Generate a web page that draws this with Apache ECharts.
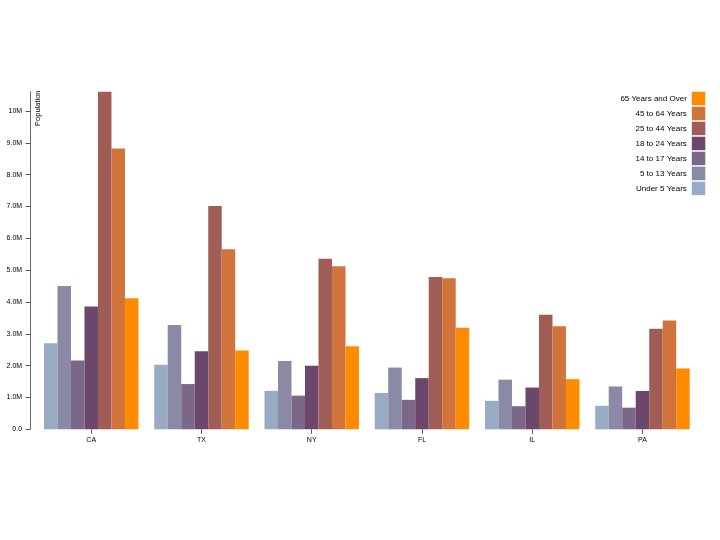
<!DOCTYPE html>
<html><head><meta charset="utf-8">
<script src="https://cdn.jsdelivr.net/npm/echarts@6/dist/echarts.min.js"></script>
<style>html,body{margin:0;padding:0;background:#fff}#c{width:720px;height:540px}</style>
</head><body><div id="c"></div>
<script>
const states = ["CA","TX","NY","FL","IL","PA"];
const ageNames = ["Under 5 Years","5 to 13 Years","14 to 17 Years","18 to 24 Years","25 to 44 Years","45 to 64 Years","65 Years and Over"];
const under5 = [2704659,2027307,1208495,1140516,894368,737462];
const age5to13 = [4499890,3277946,2141490,1938695,1558919,1345341];
const age14to17 = [2159981,1420518,1058031,925060,725973,679201];
const age18to24 = [3853788,2454721,1999120,1607297,1311479,1203944];
const age25to44 = [10604510,7017731,5355235,4782119,3596343,3157759];
const age45to64 = [8819342,5656528,5120254,4746856,3239173,3414001];
const age65plus = [4114496,2472223,2607672,3187797,1575308,1910571];
const seriesValues = [under5,age5to13,age14to17,age18to24,age25to44,age45to64,age65plus];
const colors = ["#98abc5","#8a89a6","#7b6888","#6b486b","#a05d56","#d0743c","#ff8c00"];
const yTickStep = 1000000;

const font = "Liberation Sans, Arial, Helvetica, sans-serif";
const chart = echarts.init(document.getElementById('c'), null, {renderer:'canvas'});
const maxVal = Math.max(...seriesValues.flat());
chart.setOption({
  animation:false,
  color: colors,
  grid:{left:36.1, right:22.4, top:91.7, bottom:110.7, containLabel:false},
  legend:{
    data: ageNames.slice().reverse(),
    orient:'vertical', right:14.7, top:91.7, align:'right',
    itemWidth:13.5, itemHeight:13.5, itemGap:1.5, padding:0,
    selectedMode:false, icon:'rect',
    textStyle:{fontSize:8, color:'#000', fontFamily:font}
  },
  xAxis:{
    type:'category', data:states,
    axisLine:{show:false},
    axisTick:{show:true, alignWithLabel:true, length:4.5, lineStyle:{color:'#555'}},
    axisLabel:{fontSize:7, color:'#000', margin:7, fontFamily:font}
  },
  yAxis:{
    type:'value', min:0, max:maxVal, interval:yTickStep, offset:6,
    splitLine:{show:false},
    axisLine:{show:true, lineStyle:{color:'#666', width:1}},
    axisTick:{show:true, length:4.5, lineStyle:{color:'#555'}},
    axisLabel:{fontSize:7, color:'#000', margin:8, fontFamily:font, showMaxLabel:false,
      formatter:function(v){
        if (v===0) return '0.0';
        const m = v/1e6;
        if (Math.abs(m-Math.round(m))>1e-6) return '';
        return m>=10 ? m.toFixed(0)+'M' : m.toFixed(1)+'M';
      }}
  },
  graphic:[{
    type:'text', x:34, y:90.5, rotation:Math.PI/2,
    style:{text:'Population', fontSize:7.5, fontFamily:font, fill:'#000', align:'right', verticalAlign:'top'}
  }],
  series: ageNames.map((n,i)=>({
    name:n, type:'bar', data:seriesValues[i], barWidth:13.5, barGap:'0%'
  }))
});
</script></body></html>
